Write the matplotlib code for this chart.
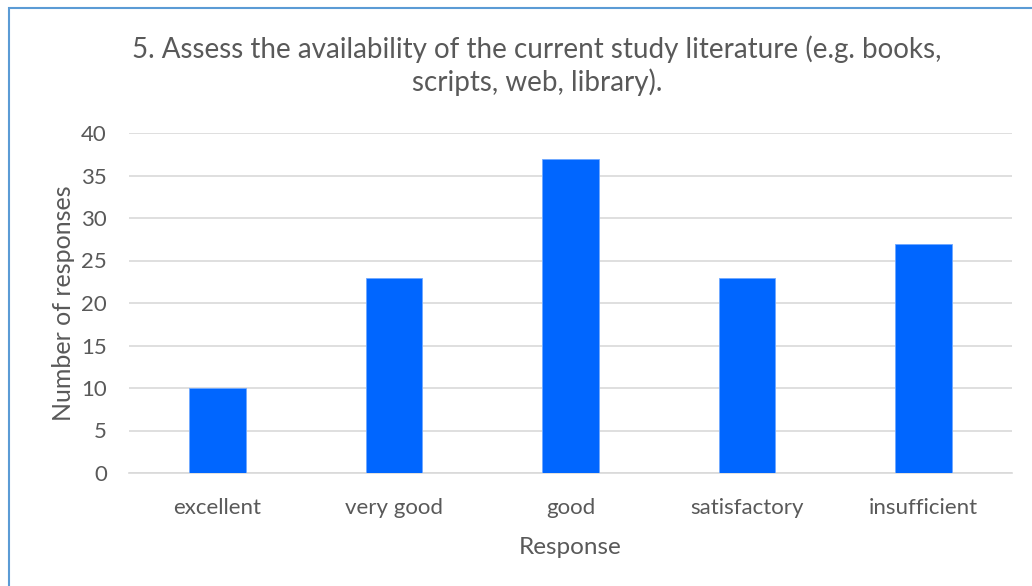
import matplotlib.pyplot as plt
from matplotlib.patches import Rectangle

categories = ["excellent", "very good", "good", "satisfactory", "insufficient"]
responses = [10, 23, 37, 23, 27]
y_ticks = [0, 5, 10, 15, 20, 25, 30, 35, 40]

title = "5. Assess the availability of the current study literature (e.g. books,\nscripts, web, library)."
text_color = "#595959"

plt.rcParams['font.family'] = ['Lato', 'DejaVu Sans']

fig = plt.figure(figsize=(10.32, 5.86), dpi=100)
ax = fig.add_axes([129 / 1032, 1 - 473 / 586, (1012 - 129) / 1032, (473 - 133) / 586])

x = range(len(categories))
ax.bar(x, responses, width=0.32, color="#0066FF", edgecolor="#6FA8FF", linewidth=0.6, zorder=3)

ax.set_xlim(-0.5, len(categories) - 0.5)
ax.set_ylim(0, 40)
ax.set_yticks(y_ticks)
ax.set_xticks(list(x))
ax.set_xticklabels(categories)
ax.yaxis.grid(True, color="#D9D9D9", linewidth=1.2, zorder=0)
ax.set_axisbelow(True)
for side in ["top", "right", "left"]:
    ax.spines[side].set_visible(False)
ax.spines["bottom"].set_color("#D9D9D9")
ax.spines["bottom"].set_linewidth(1.2)
ax.tick_params(axis="both", length=0, labelsize=16, colors=text_color)
ax.tick_params(axis="y", pad=16)
ax.tick_params(axis="x", pad=18)

ax.set_ylabel("Number of responses", fontsize=18, color=text_color, labelpad=4)
ax.set_xlabel("Response", fontsize=17.5, color=text_color, labelpad=14)

fig.text(537 / 1032, 1 - 66 / 586, title, ha="center", va="center",
         fontsize=20, color=text_color, linespacing=1.25)

# outer chart border (only left and top are visible in the crop)
fig.patches.append(Rectangle((9 / 1032, -0.1), 1.2, 1 - 8 / 586 + 0.1, transform=fig.transFigure,
                             fill=False, edgecolor="#5B9BD5", linewidth=1.5))

fig.savefig("out.png", dpi=100)
